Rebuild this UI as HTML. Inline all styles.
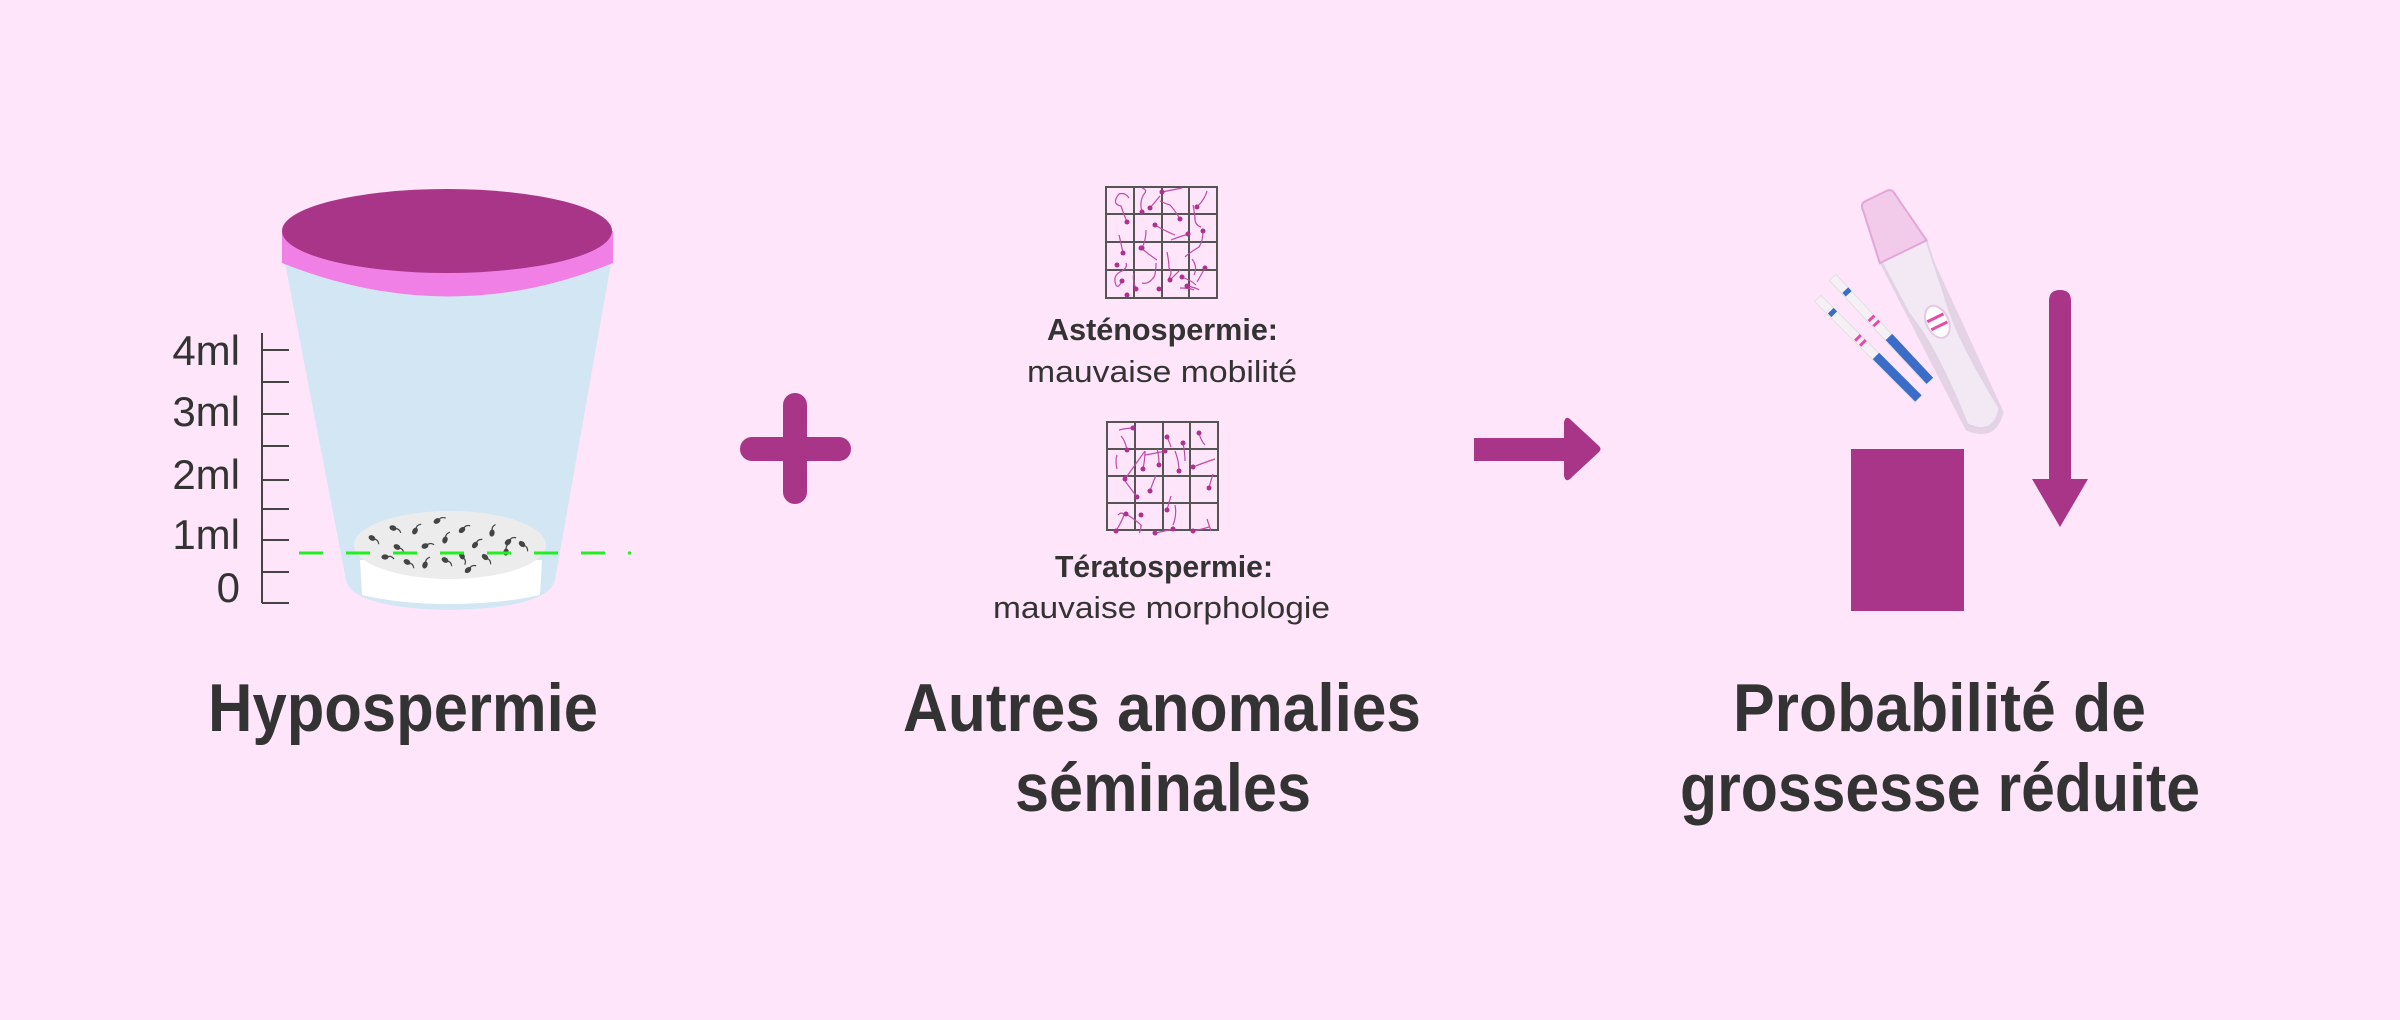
<!DOCTYPE html>
<html><head><meta charset="utf-8"><style>
html,body{margin:0;padding:0;background:#fee5f9;}
svg{display:block}
text{font-family:"Liberation Sans",sans-serif;fill:#333;}
</style></head><body>
<svg width="2400" height="1020" viewBox="0 0 2400 1020" xmlns="http://www.w3.org/2000/svg">
<defs>
<g id="sp" fill="#444" stroke="#444" stroke-width="1.2"><ellipse cx="0" cy="0" rx="3" ry="2"/><path d="M2,0 q4,-2 7,2" fill="none"/></g>
</defs>
<rect width="2400" height="1020" fill="#fee5f9"/>

<!-- Cup -->
<path d="M285,263 L611,263 L555,580 Q548,608 450,610 Q352,608 346,580 Z" fill="#d3e6f3"/>
<path d="M360,560 L542,560 L540,595 Q500,604 450,604 Q400,604 362,595 Z" fill="#ffffff"/>
<ellipse cx="450" cy="545" rx="96" ry="34" fill="#ececec"/>
<g>
<use href="#sp" transform="translate(372,538) rotate(30)"/>
<use href="#sp" transform="translate(393,528) rotate(20)"/>
<use href="#sp" transform="translate(415,531) rotate(-60)"/>
<use href="#sp" transform="translate(437,521) rotate(-30)"/>
<use href="#sp" transform="translate(425,546) rotate(-20)"/>
<use href="#sp" transform="translate(445,540) rotate(-70)"/>
<use href="#sp" transform="translate(462,530) rotate(-40)"/>
<use href="#sp" transform="translate(475,545) rotate(-50)"/>
<use href="#sp" transform="translate(492,533) rotate(-80)"/>
<use href="#sp" transform="translate(508,542) rotate(-40)"/>
<use href="#sp" transform="translate(522,544) rotate(40)"/>
<use href="#sp" transform="translate(397,547) rotate(30)"/>
<use href="#sp" transform="translate(385,557) rotate(0)"/>
<use href="#sp" transform="translate(407,562) rotate(30)"/>
<use href="#sp" transform="translate(425,565) rotate(-70)"/>
<use href="#sp" transform="translate(445,560) rotate(30)"/>
<use href="#sp" transform="translate(462,556) rotate(60)"/>
<use href="#sp" transform="translate(468,570) rotate(-40)"/>
<use href="#sp" transform="translate(485,557) rotate(40)"/>
<use href="#sp" transform="translate(506,552) rotate(-80)"/>
</g>
<!-- lid -->
<path d="M282,231 L282,263 Q450,330 613,263 L613,231 Z" fill="#f080e6"/>
<ellipse cx="447" cy="231" rx="165" ry="42" fill="#a93589"/>
<!-- scale -->
<g stroke="#444" stroke-width="2">
<line x1="262" y1="333" x2="262" y2="603"/>
<line x1="262" y1="350" x2="289" y2="350"/>
<line x1="262" y1="382" x2="289" y2="382"/>
<line x1="262" y1="414" x2="289" y2="414"/>
<line x1="262" y1="446" x2="289" y2="446"/>
<line x1="262" y1="480" x2="289" y2="480"/>
<line x1="262" y1="509" x2="289" y2="509"/>
<line x1="262" y1="540" x2="289" y2="540"/>
<line x1="262" y1="572" x2="289" y2="572"/>
<line x1="262" y1="603" x2="289" y2="603"/>
</g>
<g font-size="42" text-anchor="end">
<text x="240" y="365">4ml</text>
<text x="240" y="426">3ml</text>
<text x="240" y="489">2ml</text>
<text x="240" y="549">1ml</text>
<text x="240" y="602">0</text>
</g>
<line x1="299" y1="553" x2="631" y2="553" stroke="#22ee22" stroke-width="3" stroke-dasharray="24,23"/>

<!-- plus -->
<rect x="783" y="393" width="24" height="111" rx="12" fill="#a93589"/>
<rect x="740" y="437" width="111" height="24" rx="12" fill="#a93589"/>

<!-- grids -->
<g id="grid1">
<rect x="1106" y="187" width="111" height="111" fill="none" stroke="#555" stroke-width="2"/>
<g stroke="#555" stroke-width="2">
<line x1="1134" y1="187" x2="1134" y2="298"/><line x1="1162" y1="187" x2="1162" y2="298"/><line x1="1189" y1="187" x2="1189" y2="298"/>
<line x1="1106" y1="214" x2="1217" y2="214"/><line x1="1106" y1="242" x2="1217" y2="242"/><line x1="1106" y1="270" x2="1217" y2="270"/>
</g>
<g stroke="#c04aa5" stroke-width="1.2" fill="none">
<path d="M1127,222 q-4,-10 -6,-16 q-10,-2 -2,-12 q6,-2 10,4"/>
<path d="M1142,212 q-3,-10 2,-18 q4,-4 -2,-6"/>
<path d="M1150,208 l10,-12"/><path d="M1162,192 q10,-2 20,-4"/>
<path d="M1180,219 q-6,-10 -10,-14 q-6,-2 -10,-4"/>
<path d="M1197,207 q8,-8 10,-16"/><path d="M1193,205 q2,10 2,14 q0,6 6,8"/>
<path d="M1142,248 q4,-8 4,-18"/><path d="M1155,225 q10,6 20,10"/>
<path d="M1171,240 q10,-4 18,-6"/><path d="M1203,231 q0,10 -4,16 q-10,6 -14,10"/>
<path d="M1123,253 q-2,-10 -4,-18"/><path d="M1141,248 q10,8 16,12"/>
<path d="M1167,252 q2,10 2,16 q4,4 0,10"/>
<path d="M1122,281 q-4,8 -6,4 q-4,-10 6,-14 q6,-4 4,-8"/>
<path d="M1136,289 q-4,-10 -2,-16"/><path d="M1156,263 q0,10 -2,14 q-6,8 -12,6"/>
<path d="M1170,280 q6,-6 10,-10"/><path d="M1182,277 q10,4 14,8"/>
<path d="M1187,286 q10,2 12,4"/><path d="M1194,275 q4,-8 -2,-16"/>
<path d="M1205,268 l-8,14"/><path d="M1180,288 q10,0 14,2"/>
</g>
<g fill="#b0308f">
<circle cx="1127" cy="222" r="2.5"/><circle cx="1142" cy="212" r="2.5"/><circle cx="1150" cy="208" r="2.5"/>
<circle cx="1162" cy="192" r="2.5"/><circle cx="1180" cy="219" r="2.5"/><circle cx="1197" cy="207" r="2.5"/>
<circle cx="1142" cy="248" r="2.5"/><circle cx="1155" cy="225" r="2.5"/><circle cx="1188" cy="234" r="2.5"/>
<circle cx="1203" cy="231" r="2.5"/><circle cx="1123" cy="253" r="2.5"/><circle cx="1141" cy="248" r="2.5"/>
<circle cx="1117" cy="265" r="2.5"/><circle cx="1122" cy="281" r="2.5"/><circle cx="1136" cy="289" r="2.5"/>
<circle cx="1170" cy="280" r="2.5"/><circle cx="1182" cy="277" r="2.5"/><circle cx="1187" cy="286" r="2.5"/>
<circle cx="1205" cy="268" r="2.5"/><circle cx="1159" cy="289" r="2.5"/><circle cx="1127" cy="295" r="2.5"/>
</g>
</g>
<g transform="translate(1,235)">
<rect x="1106" y="187" width="111" height="108" fill="none" stroke="#555" stroke-width="2"/>
<g stroke="#555" stroke-width="2">
<line x1="1134" y1="187" x2="1134" y2="295"/><line x1="1162" y1="187" x2="1162" y2="295"/><line x1="1189" y1="187" x2="1189" y2="295"/>
<line x1="1106" y1="214" x2="1217" y2="214"/><line x1="1106" y1="241" x2="1217" y2="241"/><line x1="1106" y1="268" x2="1217" y2="268"/>
</g>
<g stroke="#c04aa5" stroke-width="1.2" fill="none">
<path d="M1118,195 q8,-2 14,-2"/><path d="M1126,215 q-2,-10 -6,-14"/>
<path d="M1124,244 l20,-28"/><path d="M1144,220 q12,-2 20,-4"/>
<path d="M1170,212 q-2,-6 -4,-10"/><path d="M1182,208 q2,10 2,18"/>
<path d="M1198,198 q2,8 6,12"/><path d="M1192,232 q10,-4 22,-8"/>
<path d="M1116,234 q-2,-8 0,-14"/><path d="M1142,234 q2,-10 2,-18"/>
<path d="M1158,230 q0,-10 -2,-16"/><path d="M1178,236 q0,-10 -4,-20"/>
<path d="M1136,262 q-6,-8 -12,-16"/><path d="M1155,240 q-4,10 -6,16"/>
<path d="M1166,275 q2,-8 4,-14"/><path d="M1174,270 q2,10 -2,20"/>
<path d="M1208,253 q2,-8 4,-14"/><path d="M1125,279 q10,6 16,12"/>
<path d="M1115,296 q6,-10 8,-16 q-2,-4 -6,0"/><path d="M1140,290 q0,6 -2,8"/>
<path d="M1154,298 q10,-2 18,-4"/><path d="M1192,296 q10,-2 16,-4"/>
<path d="M1210,296 q-2,-6 -4,-12"/>
</g>
<g fill="#b0308f">
<circle cx="1132" cy="193" r="2.5"/><circle cx="1126" cy="215" r="2.5"/><circle cx="1124" cy="244" r="2.5"/>
<circle cx="1164" cy="216" r="2.5"/><circle cx="1166" cy="202" r="2.5"/><circle cx="1182" cy="208" r="2.5"/>
<circle cx="1198" cy="198" r="2.5"/><circle cx="1192" cy="232" r="2.5"/><circle cx="1142" cy="234" r="2.5"/>
<circle cx="1158" cy="230" r="2.5"/><circle cx="1178" cy="236" r="2.5"/><circle cx="1136" cy="262" r="2.5"/>
<circle cx="1149" cy="256" r="2.5"/><circle cx="1166" cy="275" r="2.5"/><circle cx="1208" cy="253" r="2.5"/>
<circle cx="1125" cy="279" r="2.5"/><circle cx="1115" cy="296" r="2.5"/><circle cx="1154" cy="298" r="2.5"/>
<circle cx="1172" cy="294" r="2.5"/><circle cx="1192" cy="296" r="2.5"/><circle cx="1140" cy="280" r="2.5"/>
</g>
</g>

<text x="1047" y="340" font-size="31" font-weight="bold" textLength="231" lengthAdjust="spacingAndGlyphs">Asténospermie:</text>
<text x="1027" y="382" font-size="31" textLength="270" lengthAdjust="spacingAndGlyphs">mauvaise mobilité</text>
<text x="1055" y="577" font-size="31" font-weight="bold" textLength="218" lengthAdjust="spacingAndGlyphs">Tératospermie:</text>
<text x="993" y="618" font-size="31" textLength="337" lengthAdjust="spacingAndGlyphs">mauvaise morphologie</text>

<!-- right arrow -->
<path d="M1474,438 L1564,438 L1564,422 Q1566,414 1572,421 L1599,446 Q1602,449 1599,452 L1572,477 Q1566,484 1564,476 L1564,461 L1474,461 Z" fill="#a93589"/>

<!-- pregnancy test -->
<g transform="translate(1833,277) rotate(47)">
<rect x="0" y="-4" width="142" height="9" fill="#f4f0f6" stroke="#ddd" stroke-width="0.8"/>
<rect x="82" y="-4.5" width="60" height="9" fill="#3a6cc8"/>
<rect x="18" y="-4" width="5" height="8" fill="#3a6cc8"/>
<rect x="55" y="-4" width="3" height="8" fill="#e94aa9"/><rect x="62" y="-4" width="3" height="8" fill="#e94aa9"/>
</g>
<g transform="translate(1818,298) rotate(45)">
<rect x="0" y="-4" width="142" height="9" fill="#f4f0f6" stroke="#ddd" stroke-width="0.8"/>
<rect x="82" y="-4.5" width="60" height="9" fill="#3a6cc8"/>
<rect x="18" y="-4" width="5" height="8" fill="#3a6cc8"/>
<rect x="55" y="-4" width="3" height="8" fill="#e94aa9"/><rect x="62" y="-4" width="3" height="8" fill="#e94aa9"/>
</g>
<g transform="translate(1876,196) rotate(64)">
<path d="M60,-24 L250,-20 Q275,0 250,22 L60,26 Z" fill="#e3d3e5"/>
<path d="M60,-26 L120,-18 Q160,-10 245,-18 Q268,0 245,18 Q160,12 120,22 L60,24 Z" fill="#f3e9f4" stroke="#e2d2e6" stroke-width="2"/>
<path d="M0,-12 Q0,-18 8,-18 L62,-26 L62,26 L8,18 Q0,18 0,12 Z" fill="#f2cbea" stroke="#e3a6d8" stroke-width="2"/>
<ellipse cx="140" cy="0" rx="17" ry="11" fill="#fff" stroke="#e5c8e4" stroke-width="2"/>
<rect x="134" y="-9" width="3" height="18" fill="#e94aa9"/><rect x="143" y="-9" width="3" height="18" fill="#e94aa9"/>
</g>

<!-- bar + down arrow -->
<rect x="1851" y="449" width="113" height="162" fill="#a93589"/>
<path d="M2049,301 Q2049,290 2060,290 Q2071,290 2071,301 L2071,479 L2088,479 L2060,527 L2032,479 L2049,479 Z" fill="#a93589"/>

<!-- titles -->
<g font-weight="bold" font-size="68">
<text x="208" y="731" textLength="390" lengthAdjust="spacingAndGlyphs">Hypospermie</text>
<text x="903" y="731" textLength="518" lengthAdjust="spacingAndGlyphs">Autres anomalies</text>
<text x="1015" y="811" textLength="296" lengthAdjust="spacingAndGlyphs">séminales</text>
<text x="1733" y="731" textLength="413" lengthAdjust="spacingAndGlyphs">Probabilité de</text>
<text x="1680" y="811" textLength="520" lengthAdjust="spacingAndGlyphs">grossesse réduite</text>
</g>
</svg>
</body></html>
